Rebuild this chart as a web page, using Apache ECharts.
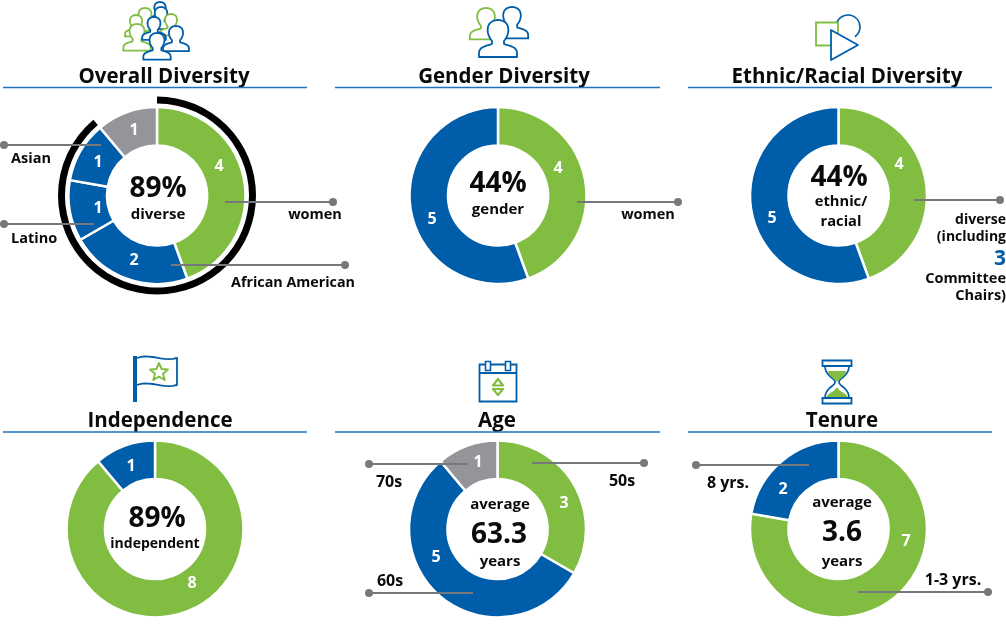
<!DOCTYPE html>
<html>
<head>
    <meta charset="UTF-8">
    <title>Board Diversity</title>
    <script src="https://cdn.jsdelivr.net/npm/echarts@6/dist/echarts.min.js"></script>
</head>
<body style="margin: 0; background: #fff">
    <div id="container" style="width: 1006px; height: 630px"></div>
    <script type="text/javascript">
        var GREEN = '#80bd41', BLUE = '#005daa', GRAY = '#939598', LINE = '#77787b', RULE = '#1f72bd', INK = '#0a0a0a';
        var FONT = '"Open Sans", sans-serif';

        // values, clockwise from 12 o'clock
        var overallValues = [4, 2, 1, 1, 1];
        var overallColors = [GREEN, BLUE, BLUE, BLUE, GRAY];
        var overallRing = [8, 1];
        var genderValues = [4, 5];
        var ethnicValues = [4, 5];
        var independenceValues = [8, 1];
        var ageValues = [3, 5, 1];
        var ageColors = [GREEN, BLUE, GRAY];
        var tenureValues = [7, 2];
        var greenBlue = [GREEN, BLUE];

        var panels = [
            { title: 'Overall Diversity', tx: 164, ty: 77, x0: 3, x1: 307, ry: 87.5, cx: 157, cy: 195.5, values: overallValues, colors: overallColors,
              lab: [[219, 166], [134, 260], [98, 208], [98, 162], [134, 130]] },
            { title: 'Gender Diversity', tx: 504, ty: 77, x0: 335, x1: 660, ry: 87.5, cx: 498, cy: 195.5, values: genderValues, colors: greenBlue,
              lab: [[558, 168], [432, 219]] },
            { title: 'Ethnic/Racial Diversity', tx: 847, ty: 77, x0: 688, x1: 992, ry: 87.5, cx: 838.5, cy: 195.5, values: ethnicValues, colors: greenBlue,
              lab: [[899, 164], [772, 218]] },
            { title: 'Independence', tx: 160, ty: 421, x0: 3, x1: 307, ry: 432, cx: 155, cy: 529, values: independenceValues, colors: greenBlue,
              lab: [[192, 583], [131, 466]] },
            { title: 'Age', tx: 497, ty: 421, x0: 335, x1: 660, ry: 432, cx: 497.5, cy: 529, values: ageValues, colors: ageColors,
              lab: [[564, 503], [436, 557], [478, 462]] },
            { title: 'Tenure', tx: 842, ty: 421, x0: 688, x1: 992, ry: 432, cx: 838.5, cy: 529, values: tenureValues, colors: greenBlue,
              lab: [[906, 541], [783, 489]] }
        ];

        // leader lines: x of dot, x of end, y
        var leaders = [
            [333, 225, 202], [345, 171, 265], [4, 101, 145], [4, 94, 224],
            [678, 577, 202], [1000, 914, 200],
            [644, 532, 463], [369, 468, 464], [369, 473, 593],
            [696, 809, 465], [988, 858, 592]
        ];

        // text, x, y, size, colour, align
        var texts = [
            ['women', 315, 215, 14.5], ['African American', 293, 283, 14.3], ['Asian', 11, 159, 14.5, INK, 'left'], ['Latino', 11, 239, 14.5, INK, 'left'],
            ['89%', 158, 189, 28], ['diverse', 158, 215, 15],
            ['women', 648, 215, 14.5], ['44%', 498, 184, 28], ['gender', 498, 210, 15],
            ['44%', 839, 178, 28], ['ethnic/', 841, 202, 14.7], ['racial', 841, 222, 14.7],
            ['diverse', 1006, 220, 14, INK, 'right'], ['(including', 1006, 237, 14, INK, 'right'],
            ['3', 1006, 259, 21, BLUE, 'right'], ['Committee', 1006, 279, 14.5, INK, 'right'], ['Chairs)', 1006, 296, 14.5, INK, 'right'],
            ['89%', 157, 519, 28], ['independent', 155, 544, 14],
            ['average', 500, 505, 15], ['63.3', 499, 535, 28], ['years', 500, 562, 15],
            ['50s', 622, 481, 16], ['70s', 389, 482, 16], ['60s', 390, 581, 16],
            ['average', 842, 503, 15], ['3.6', 842, 533, 28], ['years', 842, 562, 15],
            ['8 yrs.', 728, 483, 16], ['1-3 yrs.', 953, 580, 16]
        ];

        var personPath = 'M-6,21C-10,16 -11,11 -10,7C-9,2 -4,0 0,0C4,0 9,2 10,7C11,11 10,16 6,21L6,24C12,26 19,27 19,33L19,37L-19,37L-19,33C-19,27 -12,26 -6,24Z';

        // cx, top, scale, colour; back to front
        var people = [
            [160, 2, 0.55, BLUE], [145, 8, 0.62, GREEN], [161, 7, 0.6, BLUE], [136, 15, 0.58, GREEN], [171, 14, 0.58, GREEN],
            [137, 24, 0.72, GREEN], [154, 17, 0.62, BLUE], [176, 26, 0.68, BLUE], [157, 33, 0.72, BLUE],
            [486, 8, 0.85, GREEN], [512, 7, 0.85, BLUE], [498, 20, 1, BLUE]
        ];

        var elements = [];

        // the graphic component has no svg path type, so flatten M/L/C/Z into points
        function flatten(d, x, y, s) {
            var pts = [], cur = [0, 0], closed = /Z/.test(d);
            (d.match(/[MLC][^MLCZ]*/g) || []).forEach(function (seg) {
                var n = seg.slice(1).trim().split(/[\s,]+/).map(Number);
                if (seg[0] === 'C') {
                    for (var t = 1; t <= 10; t++) {
                        var u = t / 10, v = 1 - u;
                        pts.push([
                            v * v * v * cur[0] + 3 * v * v * u * n[0] + 3 * v * u * u * n[2] + u * u * u * n[4],
                            v * v * v * cur[1] + 3 * v * v * u * n[1] + 3 * v * u * u * n[3] + u * u * u * n[5]
                        ]);
                    }
                    cur = [n[4], n[5]];
                } else {
                    pts.push([n[0], n[1]]);
                    cur = [n[0], n[1]];
                }
            });
            return {
                closed: closed,
                points: pts.map(function (q) { return [x + q[0] * s, y + q[1] * s]; })
            };
        }
        function pathIcon(d, color, width, z, fill, x, y, s) {
            var f = flatten(d, x || 0, y || 0, s || 1);
            elements.push({
                type: f.closed ? 'polygon' : 'polyline', z: z || 12, shape: { points: f.points },
                style: { fill: fill || 'none', stroke: color, lineWidth: width, lineJoin: 'round' }
            });
        }
        function outline(shapeType, shape, color, width, z, fill) {
            elements.push({ type: shapeType, z: z || 12, shape: shape, style: { fill: fill || 'none', stroke: color, lineWidth: width || 1.5 } });
        }

        panels.forEach(function (p) {
            elements.push({ type: 'text', z: 10, style: { text: p.title, x: p.tx, y: p.ty, align: 'center', verticalAlign: 'middle', font: 'bold 20.5px ' + FONT, fill: INK } });
            elements.push({ type: 'line', z: 10, shape: { x1: p.x0, y1: p.ry, x2: p.x1, y2: p.ry }, style: { stroke: RULE, lineWidth: 1.5 } });
        });

        leaders.forEach(function (l) {
            elements.push({ type: 'line', z: 10, shape: { x1: l[0], y1: l[2], x2: l[1], y2: l[2] }, style: { stroke: LINE, lineWidth: 2 } });
            elements.push({ type: 'circle', z: 10, shape: { cx: l[0], cy: l[2], r: 4 }, style: { fill: LINE } });
        });

        texts.forEach(function (t) {
            elements.push({ type: 'text', z: 11, style: { text: t[0], x: t[1], y: t[2], align: t[5] || 'center', verticalAlign: 'middle', font: 'bold ' + t[3] + 'px ' + FONT, fill: t[4] || INK } });
        });

        // icons
        people.forEach(function (a, i) {
            pathIcon(personPath, a[3], 1.8, 12 + i, '#fff', a[0], a[1], a[2]);
        });
        // ethnic
        outline('rect', { x: 816, y: 22.5, width: 22, height: 23 }, GREEN, 1.8, 12);
        outline('arc', { cx: 848, cy: 27, r: 12, startAngle: -2.7, endAngle: 0.95 }, BLUE, 1.6, 13);
        pathIcon('M831,30L858,45L831,60Z', BLUE, 1.8, 14, '#fff');
        // flag
        elements.push({ type: 'rect', z: 12, shape: { x: 133, y: 356, width: 4, height: 46 }, style: { fill: BLUE } });
        pathIcon('M137,358C150,353 163,362 177,358L177,385C163,389 150,380 137,385', BLUE, 1.8);
        pathIcon('M159,363L161.6,369L168,369.5L163,373.7L164.7,380L159,376.6L153.3,380L155,373.7L150,369.5L156.4,369Z', GREEN, 1.9);
        // calendar
        outline('rect', { x: 479.5, y: 364.5, width: 37, height: 37 }, BLUE, 1.8);
        pathIcon('M479.5,373L516.5,373', BLUE, 1.8);
        outline('rect', { x: 485.5, y: 361.5, width: 5, height: 9 }, BLUE, 1.6, 13, '#fff');
        outline('rect', { x: 505.5, y: 361.5, width: 5, height: 9 }, BLUE, 1.6, 13, '#fff');
        pathIcon('M498,379L503,385.5L493,385.5Z', GREEN, 2.2);
        pathIcon('M493,389L503,389L498,395Z', GREEN, 2.2);
        // hourglass
        pathIcon('M825,366C825,376 835,378 835,382C835,386 825,388 825,398', BLUE, 1.7);
        pathIcon('M849,366C849,376 839,378 839,382C839,386 849,388 849,398', BLUE, 1.7);
        pathIcon('M828,371L846,371C845,377 839,379 837,382C835,379 829,377 828,371Z', 'none', 0, 12, GREEN);
        pathIcon('M826,398C828,392 835,392 836,388L838,388C839,392 846,392 848,398Z', 'none', 0, 12, GREEN);
        outline('rect', { x: 822.5, y: 360.5, width: 29, height: 5.5 }, BLUE, 1.8, 13, '#fff');
        outline('rect', { x: 822.5, y: 398, width: 29, height: 5.5 }, BLUE, 1.8, 13, '#fff');

        var series = panels.map(function (p) {
            return {
                type: 'pie',
                center: [p.cx, p.cy],
                radius: [50, 88.5],
                startAngle: 90,
                clockwise: true,
                silent: true,
                animation: false,
                data: p.values.map(function (v, i) {
                    return { value: v, itemStyle: { color: p.colors[i] } };
                }),
                itemStyle: { borderColor: '#fff', borderWidth: 2.5 },
                label: { show: true, position: 'inside', formatter: '{c}', color: '#fff', fontFamily: FONT, fontWeight: 'bold', fontSize: 16 },
                labelLine: { show: false },
                labelLayout: function (params) {
                    var at = p.lab[params.dataIndex];
                    return { x: at[0], y: at[1] };
                }
            };
        });

        // black ring round the overall donut
        series.push({
            type: 'pie',
            center: [panels[0].cx, panels[0].cy],
            radius: [92, 99],
            startAngle: 90,
            silent: true,
            animation: false,
            label: { show: false },
            data: overallRing.map(function (v, i) {
                return { value: v, itemStyle: { color: i === 0 ? '#000' : 'transparent' } };
            })
        });

        var myChart = echarts.init(document.getElementById('container'), null, { renderer: 'canvas' });
        myChart.setOption({
            animation: false,
            backgroundColor: '#fff',
            series: series,
            graphic: { elements: elements }
        });
    </script>
</body>
</html>
